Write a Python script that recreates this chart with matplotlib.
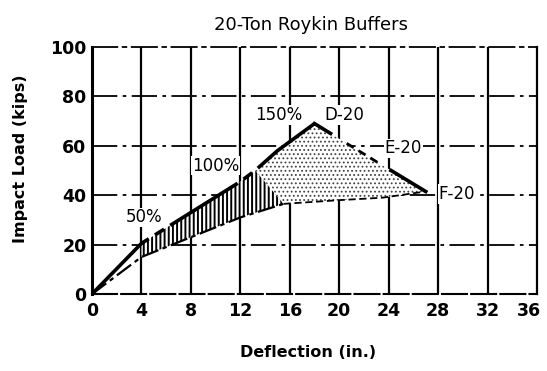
import numpy as np
import matplotlib.pyplot as plt
import matplotlib.transforms as mtransforms

# load-deflection traces, kips vs inches
upper_x = [0, 4, 8, 12, 13.2, 15, 18]
upper_y = [0, 20.5, 33, 45.5, 50, 58, 69]
lower_x = [0, 4, 8, 12, 15.5]
lower_y = [0, 15, 23, 31, 36.5]
d20_x = [18, 19.3]
d20_y = [69, 65]
e20_x = [20.6, 23.2]
e20_y = [61, 53]
f20_x = [24.2, 27]
f20_y = [50, 41.5]
base_x = [15.5, 20, 23.5, 27]
base_y = [36.5, 38, 39, 41.5]

labels = ['50%', '100%', '150%', 'D-20', 'E-20', 'F-20']
label_x = [4.2, 10.0, 15.1, 20.4, 25.2, 29.5]
label_y = [31, 52, 72.5, 72.5, 59, 40.5]

fig = plt.figure(figsize=(5.47, 3.71), dpi=100)
ax = fig.add_axes([0.1682, 0.2075, 0.8135, 0.6658])
ax.set_xlim(0, 36)
ax.set_ylim(0, 100)

# grid: solid verticals, dash-dot horizontals
for x in range(4, 36, 4):
    ax.axvline(x, color='black', lw=1.6, zorder=1)
for y in range(20, 100, 20):
    ax.axhline(y, color='black', lw=1.3, ls=(0, (14, 3, 2, 3)), zorder=1)

# hatched band between the two loading curves
hx = np.array(upper_x[1:5])
ht = np.array(upper_y[1:5])
hb = np.interp(hx, lower_x, lower_y)
hpoly_x = list(hx) + [lower_x[-1]] + list(hx[::-1])
hpoly_y = list(ht) + [lower_y[-1]] + list(hb[::-1])
ax.fill(hpoly_x, hpoly_y, facecolor='white', edgecolor='none', zorder=2)
plt.rcParams['hatch.linewidth'] = 1.4
ax.fill(hpoly_x, hpoly_y, facecolor='none', edgecolor='black', hatch='||||',
        lw=0, zorder=3)

# stippled envelope of the D-20, E-20, F-20 curves
env_x = upper_x[4:] + d20_x[1:] + e20_x + f20_x + base_x[::-1]
env_y = upper_y[4:] + d20_y[1:] + e20_y + f20_y + base_y[::-1]
ax.fill(env_x, env_y, facecolor='white', edgecolor='none', zorder=2)
plt.rcParams['hatch.linewidth'] = 0.8
ax.fill(env_x, env_y, facecolor='none', edgecolor='#444444', hatch='....',
        lw=0, zorder=3)

ax.plot(upper_x, upper_y, color='black', lw=2.6, ls=(0, (22, 2, 3, 2)),
        solid_capstyle='butt', zorder=4)
ax.plot(lower_x, lower_y, color='black', lw=1.6, ls=(0, (8, 2, 2, 2)), zorder=4)
ax.plot(d20_x, d20_y, color='black', lw=2.6, zorder=4)
ax.plot(e20_x, e20_y, color='black', lw=2.0, ls=(0, (3, 2)), zorder=4)
ax.plot(f20_x, f20_y, color='black', lw=2.6, zorder=4)
ax.plot(base_x, base_y, color='black', lw=1.3, ls=(0, (4, 2)), zorder=4)

for t, x, y in zip(labels, label_x, label_y):
    ax.text(x, y, t, fontsize=12, ha='center', va='center', zorder=5,
            bbox=dict(facecolor='white', edgecolor='none', pad=0.5))

ax.spines['left'].set_linewidth(2.2)
ax.spines['right'].set_linewidth(1.6)
ax.spines['top'].set_linewidth(1.3)
ax.spines['top'].set_linestyle((0, (14, 3, 2, 3)))
ax.spines['bottom'].set_linewidth(1.5)
ax.spines['bottom'].set_linestyle((0, (12, 2)))

ax.set_xticks(range(0, 37, 4))
ax.set_yticks(range(0, 101, 20))
ax.tick_params(length=0, labelsize=12.5)
ax.tick_params(axis='x', pad=6)
ax.tick_params(axis='y', pad=4)
for lab in ax.get_xticklabels() + ax.get_yticklabels():
    lab.set_fontweight('bold')
# keep the last x label inside the figure
last = ax.get_xticklabels()[-1]
last.set_transform(last.get_transform() +
                   mtransforms.ScaledTranslation(-6 / 72, 0, fig.dpi_scale_trans))

fig.text(0.569, 0.933, '20-Ton Roykin Buffers', fontsize=13, ha='center', va='center')
fig.text(0.563, 0.051, 'Deflection (in.)', fontsize=11.5, fontweight='bold',
         ha='center', va='center')
fig.text(0.037, 0.571, 'Impact Load (kips)', fontsize=11.5, fontweight='bold',
         rotation=90, ha='center', va='center')

fig.savefig('out.png', dpi=100)
